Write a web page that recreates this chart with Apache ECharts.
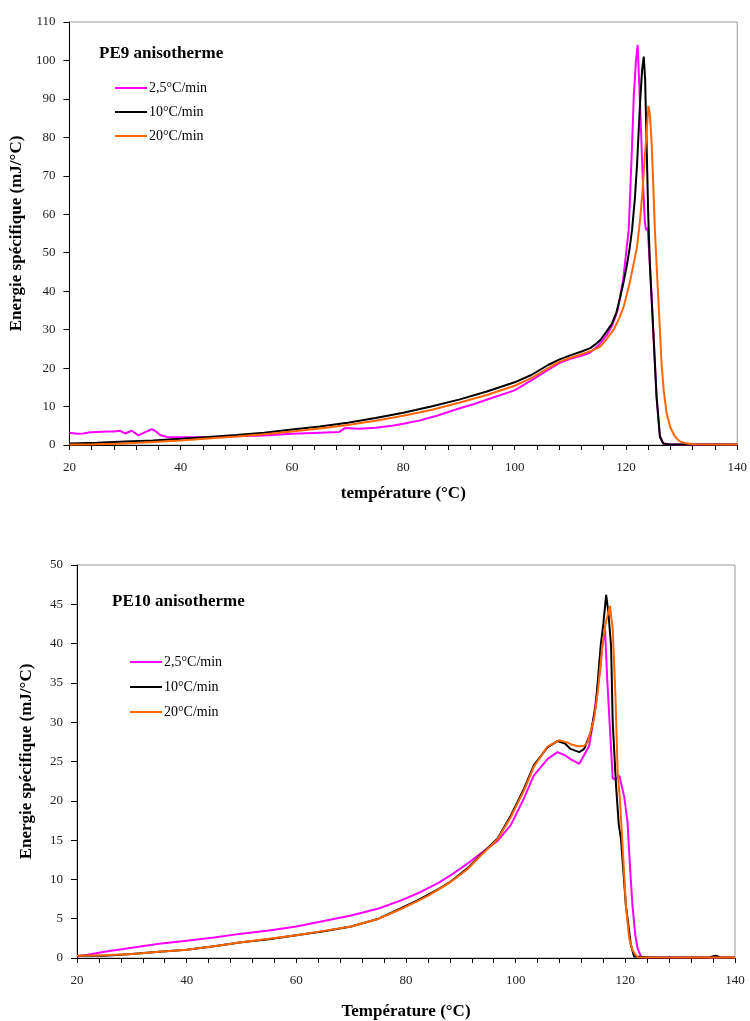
<!DOCTYPE html>
<html>
<head>
<meta charset="utf-8">
<script src="https://cdn.jsdelivr.net/npm/echarts@6/dist/echarts.min.js"></script>
<style>
html,body{margin:0;padding:0;background:#fff;}
#chart{width:750px;height:1021px;}
</style>
</head>
<body>
<div id="chart"></div>
<script>
// ---- Data (temperature °C, specific energy mJ/°C) ----
var seriesNames = ["2,5°C/min", "10°C/min", "20°C/min"];
var chartTitles = ["PE9 anisotherme", "PE10 anisotherme"];

var pe9_slow = [[20,3.2],[21.4,2.9],[22.5,3.0],[23.8,3.3],[25,3.4],[26.7,3.5],[28,3.5],[29.1,3.7],[30,3.0],[31.2,3.7],[32.4,2.5],[33.5,3.3],[34.8,4.1],[35.5,3.6],[36.3,2.6],[37.7,2.0],[40,2.0],[43,2.0],[46,2.1],[50,2.3],[55,2.5],[60,2.9],[65,3.2],[68.5,3.4],[69.5,4.4],[72,4.2],[75,4.5],[78,5.0],[80,5.5],[83,6.4],[86,7.6],[90,9.5],[93,10.8],[96,12.3],[100,14.2],[103,16.8],[106,19.5],[108,21.3],[110,22.4],[112,23.2],[113.5,24.0],[115,25.8],[116.5,28.5],[117.5,31],[118.5,35],[119.5,43],[120.5,56],[120.8,67],[121.1,78],[121.4,90.6],[121.8,100],[122.1,104],[122.5,90],[123.0,70],[123.4,58],[123.6,55.9],[123.9,56.5],[124.3,47],[124.9,30],[125.5,12.6],[126.1,2.2],[126.7,0.4],[128,0.1],[132,0.1],[135,0.2],[140,0.1]];

var pe9_mid = [[20,0.4],[25,0.6],[30,0.9],[35,1.2],[40,1.6],[45,2.1],[50,2.6],[55,3.2],[60,4.0],[65,4.8],[70,5.8],[75,7.0],[80,8.4],[85,10.0],[90,11.8],[95,13.9],[100,16.3],[103,18.2],[106,20.8],[108,22.2],[110,23.3],[112,24.3],[113.6,25.2],[114.8,26.5],[115.4,27.3],[116.5,29.5],[117.5,31.6],[118.3,34.5],[119,38.6],[119.6,42.5],[120.2,47],[120.7,51.5],[121.1,56],[121.6,64],[122,73],[122.3,82],[122.6,90.6],[122.9,97.5],[123.2,101],[123.45,95],[123.75,76],[124.0,60],[124.3,47],[124.9,30],[125.5,12.6],[126.1,2.2],[126.7,0.4],[128,0.15],[140,0.1]];

var pe9_fast = [[20,0.1],[25,0.2],[30,0.4],[35,0.8],[40,1.2],[45,1.7],[50,2.2],[55,2.8],[60,3.5],[65,4.3],[70,5.2],[75,6.3],[80,7.6],[85,9.1],[90,11.0],[95,13.0],[100,15.4],[103,17.4],[106,20.0],[108,21.6],[110,22.7],[112,23.6],[114,24.6],[115.4,25.6],[116.5,27.5],[117.8,30],[118.8,33],[119.6,36],[120.3,40],[120.8,43],[121.5,48],[122,51.6],[122.5,58],[122.9,64.6],[123.3,73],[123.75,82],[124.05,88.2],[124.3,86],[124.6,79],[124.9,68],[125.2,56],[125.5,47],[125.8,38.6],[126.1,30],[126.4,21.2],[126.8,14],[127.3,8.3],[128,4.5],[128.8,2.2],[129.6,1.0],[130.6,0.5],[132,0.2],[140,0.1]];

var pe10_slow = [[20,0.2],[22,0.4],[25,0.8],[30,1.3],[35,1.8],[40,2.2],[45,2.6],[50,3.1],[55,3.5],[60,4.0],[65,4.7],[70,5.4],[75,6.3],[79,7.3],[82.7,8.4],[86,9.6],[88.1,10.5],[91.2,12],[93.6,13.3],[96.7,14.9],[99.1,16.9],[101.5,20.3],[103.3,23.2],[105.8,25.3],[107.6,26.2],[109,25.8],[110,25.3],[111.6,24.7],[112.8,26.2],[113.4,27],[114,29.5],[114.9,34.2],[115.4,36.5],[115.8,39.7],[116.3,41.8],[116.7,35.4],[117.2,29.1],[117.7,22.8],[118.3,22.8],[118.9,23.2],[119.3,22],[119.8,20.5],[120.4,17.3],[120.9,11],[121.3,6.7],[121.8,3],[122.2,1.3],[122.9,0.1],[130,0.05],[140,0.05]];

var pe10_mid = [[20,0.3],[25,0.3],[30,0.5],[35,0.8],[40,1.05],[45,1.5],[50,2.0],[55,2.4],[60,2.9],[65,3.4],[70,4.0],[75,5.0],[79,6.3],[82,7.3],[83.9,8.0],[86,8.8],[88.1,9.7],[91.2,11.4],[93.6,13.1],[96.7,15.2],[99.1,18.1],[101.5,21.5],[103.3,24.5],[105.8,26.8],[107.6,27.6],[109,27.3],[110,26.6],[111.6,26.2],[112.5,26.6],[113.7,28.7],[114.6,32],[115.5,39.7],[116,42.6],[116.5,46.2],[116.9,44],[117.4,39.7],[117.7,30],[118.0,26],[118.3,22],[118.8,17],[119.2,15.2],[120.1,6.7],[121,1.7],[121.6,0.2],[125,0.05],[135,0.05],[136.5,0.3],[137.5,0.05],[140,0.05]];

var pe10_fast = [[20,0.3],[25,0.35],[30,0.5],[35,0.8],[40,1.05],[45,1.5],[50,2.0],[55,2.45],[60,2.9],[65,3.45],[70,4.0],[75,5.0],[79,6.2],[82,7.2],[84,7.9],[88,9.6],[91.2,11.3],[93.6,13.0],[96.7,15.1],[99.1,17.9],[101.5,21.3],[103.3,24.3],[105.8,26.9],[107.9,27.7],[109.5,27.4],[110.05,27.2],[111.5,26.9],[112.5,27],[113.1,27.4],[114.3,30.4],[115.0,34],[115.8,39.7],[116.4,42.6],[117.2,44.8],[117.7,41.8],[118.2,33.3],[118.6,23.6],[119.0,20.3],[119.4,15.5],[120.1,6.7],[120.7,2.5],[121.3,1.0],[122.2,0.1],[140,0.05]];

var xTicks = [20, 40, 60, 80, 100, 120, 140];
var yTicksTop = [0, 10, 20, 30, 40, 50, 60, 70, 80, 90, 100, 110];
var yTicksBottom = [0, 5, 10, 15, 20, 25, 30, 35, 40, 45, 50];

// ---- Styling ----
var colors = ["#FF00FF", "#000000", "#FF6600"];
var serif = "'Liberation Serif', 'Times New Roman', serif";

function xAxis(gridIndex, nameGap) {
  return {
    type: "value", gridIndex: gridIndex,
    min: xTicks[0], max: xTicks[xTicks.length - 1], interval: 20,
    name: gridIndex === 0 ? "température (°C)" : "Température (°C)",
    nameLocation: "middle", nameGap: nameGap,
    nameTextStyle: {fontFamily: serif, fontWeight: "bold", fontSize: 17, color: "#000"},
    axisLine: {show: true, onZero: false, lineStyle: {color: "#000", width: 1}},
    axisTick: {show: true, inside: false, length: 5, lineStyle: {color: "#000"}},
    minorTick: {show: true, splitNumber: 5, length: 5, lineStyle: {color: "#000"}},
    axisLabel: {fontFamily: serif, fontSize: 13, color: "#222", margin: 16},
    splitLine: {show: false}, minorSplitLine: {show: false}
  };
}
function yAxis(gridIndex, ticks, interval) {
  return {
    type: "value", gridIndex: gridIndex,
    min: ticks[0], max: ticks[ticks.length - 1], interval: interval,
    name: "Energie spécifique (mJ/°C)",
    nameLocation: "middle", nameGap: 42, nameRotate: 90,
    nameTextStyle: {fontFamily: serif, fontWeight: "bold", fontSize: 17, color: "#000"},
    axisLine: {show: true, onZero: false, lineStyle: {color: "#000", width: 1}},
    axisTick: {show: true, inside: false, length: 6, lineStyle: {color: "#000"}},
    axisLabel: {fontFamily: serif, fontSize: 13, color: "#222", margin: 14},
    splitLine: {show: false}
  };
}
function line(name, data, idx, grid) {
  return {
    name: name, type: "line", xAxisIndex: grid, yAxisIndex: grid,
    data: data, symbol: "none", showSymbol: false, smooth: false,
    lineStyle: {color: colors[idx], width: 2}, itemStyle: {color: colors[idx]},
    z: 2 + idx, animation: false
  };
}
function legend(left, top, gap) {
  return {
    orient: "vertical", left: left, top: top, padding: 0,
    icon: "rect", itemWidth: 32, itemHeight: 2, itemGap: gap,
    data: seriesNames, selectedMode: false,
    textStyle: {fontFamily: serif, fontSize: 14, color: "#000", padding: [0, 0, 0, -3]}
  };
}

var option = {
  backgroundColor: "#fff",
  animation: false,
  title: [
    {text: chartTitles[0], left: 99, top: 45, padding: 0,
     textStyle: {fontFamily: serif, fontWeight: "bold", fontSize: 17, color: "#000"}},
    {text: chartTitles[1], left: 112, top: 593, padding: 0,
     textStyle: {fontFamily: serif, fontWeight: "bold", fontSize: 17, color: "#000"}}
  ],
  legend: [legend(115, 81, 10), legend(130, 655, 11)],
  grid: [
    {left: 69, top: 22, width: 672, height: 423, show: true, borderColor: "#999", borderWidth: 1, backgroundColor: "transparent"},
    {left: 77, top: 565, width: 658, height: 395, show: true, borderColor: "#999", borderWidth: 1, backgroundColor: "transparent"}
  ],
  xAxis: [xAxis(0, 40), xAxis(1, 45)],
  yAxis: [yAxis(0, yTicksTop, 10), yAxis(1, yTicksBottom, 5)],
  series: [
    line(seriesNames[0], pe9_slow, 0, 0),
    line(seriesNames[1], pe9_mid, 1, 0),
    line(seriesNames[2], pe9_fast, 2, 0),
    line(seriesNames[0], pe10_slow, 0, 1),
    line(seriesNames[1], pe10_mid, 1, 1),
    line(seriesNames[2], pe10_fast, 2, 1)
  ]
};

var chart = echarts.init(document.getElementById("chart"), null, {renderer: "canvas"});
chart.setOption(option);
</script>
</body>
</html>
